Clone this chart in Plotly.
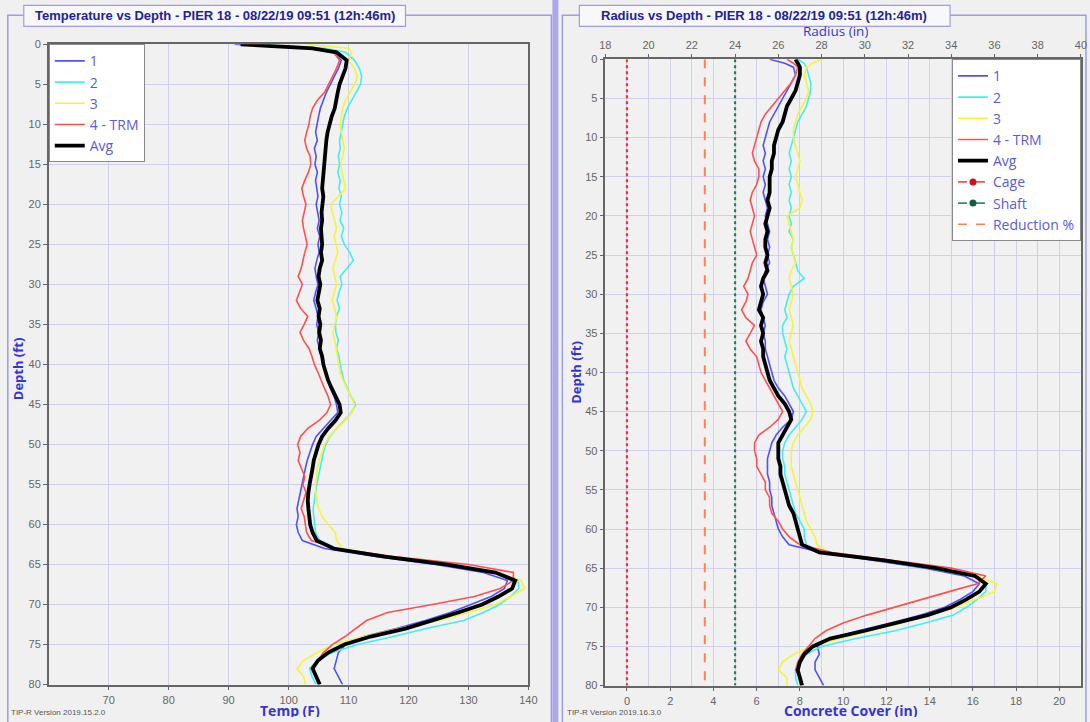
import plotly.graph_objects as go

# ---------------------------------------------------------------- data
depth_ft = [0, 0.5, 1, 2, 3, 4, 5, 6, 7, 8, 9, 10,
            11, 12, 13, 14, 15, 16, 17, 18, 19, 20,
            21, 22, 23, 24, 25, 26, 27, 28, 29, 30,
            31, 32, 33, 34, 35, 36, 37, 38, 39, 40,
            41, 42, 43, 44, 45, 46, 47, 48, 49, 50,
            51, 52, 53, 54, 55, 56, 57, 58, 59, 60,
            61, 62, 63, 64, 65, 66, 67, 68, 69, 70,
            71, 72, 73, 74, 75, 76, 77, 78, 79, 80]

# temperature (F) per tube
temp_1 = [91, 103, 107.5, 108.8, 108.3, 107.6, 107, 106.3, 105.8, 105.3, 105, 104.8,
          104.5, 104.8, 104.3, 104.6, 104.4, 104.8, 104.5, 104.7, 104.9, 104.6,
          104.9, 105.1, 104.8, 105.2, 104.9, 105.1, 104.7, 104.4, 104.6, 104.9,
          104.5, 104.2, 104.6, 104.9, 104.7, 105, 104.8, 105.2, 105.5, 105.8,
          106.2, 106.6, 107, 107.6, 108, 108.2, 107, 105.7, 104.6, 104,
          103.5, 103.1, 102.8, 102.5, 102.2, 101.9, 101.7, 101.4, 101.6, 101.3,
          101.6, 102.3, 106, 114.5, 124.5, 132.5, 136.5, 136, 133.8, 130.5,
          127, 122.8, 118, 112.5, 109.5, 108.3, 107.9, 107.6, 108.3, 109]
temp_2 = [95, 106, 109.5, 111, 111.8, 112.2, 112, 111.3, 110.5, 109.8, 109.3, 109,
          108.8, 108.5, 108.6, 108.3, 108.5, 108.2, 108.6, 108.4, 108.8, 108.5,
          108.9, 108.6, 109.2, 108.8, 109.3, 110.2, 110.8, 109.7, 108.6, 108.9,
          108.4, 108.1, 108.5, 108, 107.8, 107.9, 108.3, 108, 108.4, 108.6,
          108.9, 109.2, 109.8, 110.4, 111.2, 110.5, 109.3, 108, 106.9, 106.2,
          105.8, 105.5, 105.2, 104.9, 104.7, 104.5, 104.3, 104.1, 104.2, 104.3,
          104.5, 105.2, 108, 116.5, 126.3, 134.5, 138.3, 138.4, 137, 135.2,
          132.5, 129.2, 123, 117.5, 111.5, 107.3, 104.8, 103.5, 103.9, 104.6]
temp_3 = [103, 110, 110.5, 110, 111, 111.5, 111, 110.2, 109.5, 109, 108.8, 108.6,
          108.8, 109.1, 109.3, 109, 108.7, 108.9, 109.2, 109.5, 108.3, 107,
          107.3, 107.6, 108, 107.6, 107.9, 108.2, 107.8, 107.4, 107.7, 108,
          107.6, 107.3, 107.7, 108, 107.7, 107.4, 107.7, 107.9, 108.1, 108.3,
          108.6, 109.1, 109.7, 110.4, 111, 110.6, 109.4, 108, 106.8, 106,
          105.5, 105.1, 104.8, 104.6, 104.5, 104.5, 104.7, 105, 105.6, 106.6,
          107.8, 108, 109, 116.5, 126.5, 134.5, 138.8, 139.4, 137, 134.5,
          130, 125, 118.5, 112.5, 107.5, 104.8, 102.5, 101.4, 102.5, 102.8]
temp_4 = [93, 104, 107.5, 108.5, 108, 107.3, 106.6, 106, 104.8, 104, 103.6, 103.4,
          103, 102.7, 103, 103.6, 103.7, 103.3, 102.7, 102.2, 102.5, 102.9,
          102.6, 102.3, 102.5, 102.8, 103.1, 102.7, 102.4, 102.1, 101.6, 102.3,
          101.8, 101.3, 102, 103.2, 102.6, 101.9, 102.5, 103.4, 103.9, 104.3,
          104.9, 105.4, 106, 106.6, 107, 106.4, 105.1, 103.2, 102, 101.5,
          101.9, 101.6, 102.2, 102.7, 102.4, 102.9, 102.5, 102.1, 102.6, 102.8,
          103, 103.8, 108, 117.5, 130, 137.5, 137.5, 135.3, 131, 124,
          116.5, 113, 111.2, 109.4, 107.3, 105.8, 104.9, 104.1, 104.7, 105.1]
temp_avg = [92, 104, 108, 109.7, 109.5, 109, 108.5, 108.2, 108, 107.7, 107.2, 106.8,
            106.5, 106.3, 106.2, 106, 106, 105.8, 105.8, 105.6, 105.8, 105.7,
            105.5, 105.6, 105.4, 105.5, 105.6, 105.4, 105.6, 105.2, 105, 105.3,
            105.1, 104.8, 105.2, 105, 105.3, 105.1, 105.4, 105.2, 105.6, 105.8,
            106.2, 106.6, 107.2, 107.9, 108.5, 108.7, 107.8, 106.6, 105.6, 105,
            104.6, 104.2, 104, 103.7, 103.5, 103.3, 103.2, 103.3, 103.4, 103.6,
            104, 104.7, 107.5, 116, 126.5, 134.5, 137.8, 137.3, 135, 132.3,
            128.3, 124, 119.5, 113.7, 109.3, 106.6, 104.9, 104, 104.6, 105.2]

# effective radius (in) per tube
radius_1 = [25.6, 26.3, 26.7, 26.8, 26.6, 26.4, 26.2, 26.0, 25.8, 25.6, 25.5, 25.4,
            25.3, 25.4, 25.3, 25.4, 25.3, 25.4, 25.3, 25.4, 25.5, 25.4,
            25.5, 25.6, 25.5, 25.6, 25.5, 25.6, 25.4, 25.3, 25.4, 25.5,
            25.3, 25.2, 25.3, 25.4, 25.3, 25.4, 25.4, 25.5, 25.6, 25.7,
            25.8, 26.0, 26.3, 26.5, 26.7, 26.6, 26.2, 25.9, 25.7, 25.6,
            25.5, 25.5, 25.5, 25.6, 25.6, 25.7, 25.7, 25.8, 25.9, 26.0,
            26.2, 26.5, 28.0, 30.3, 32.8, 34.6, 35.3, 35.0, 34.4, 33.7,
            32.6, 31.2, 29.7, 28.4, 27.8, 27.9, 27.7, 27.7, 27.9, 28.1]
radius_2 = [26.9, 27.2, 27.3, 27.4, 27.5, 27.5, 27.4, 27.3, 27.1, 26.9, 26.8, 26.7,
            26.6, 26.5, 26.6, 26.5, 26.6, 26.5, 26.6, 26.5, 26.6, 26.5,
            26.6, 26.5, 26.7, 26.6, 26.7, 26.8, 26.9, 27.2, 26.7, 26.5,
            26.4, 26.3, 26.4, 26.2, 26.2, 26.3, 26.4, 26.3, 26.4, 26.5,
            26.6, 26.7, 26.9, 27.1, 27.3, 27.1, 26.8, 26.5, 26.3, 26.2,
            26.2, 26.3, 26.3, 26.4, 26.5, 26.6, 26.7, 26.8, 27.0, 27.2,
            27.2, 27.3, 28.1, 30.5, 33.0, 35.0, 35.6, 35.6, 35.2, 34.7,
            34.1, 32.8, 31.4, 29.6, 28.0, 27.3, 27.0, 26.8, 26.8, 26.9]
radius_3 = [28.0, 27.6, 27.3, 27.2, 27.3, 27.4, 27.3, 27.1, 26.9, 26.8, 26.7, 26.7,
            26.8, 26.9, 27.0, 26.9, 26.8, 26.9, 27.0, 27.1, 27.0, 26.4,
            26.5, 26.6, 26.7, 26.6, 26.7, 26.8, 26.6, 26.5, 26.6, 26.7,
            26.6, 26.5, 26.6, 26.7, 26.6, 26.5, 26.6, 26.7, 26.8, 26.9,
            27.0, 27.1, 27.3, 27.5, 27.6, 27.5, 27.2, 26.9, 26.7, 26.6,
            26.6, 26.6, 26.7, 26.8, 26.9, 27.0, 27.1, 27.2, 27.3, 27.5,
            27.7, 27.8, 28.3, 30.6, 33.2, 35.2, 36.1, 36.0, 35.1, 34.2,
            33.0, 31.7, 30.2, 28.9, 27.5, 26.7, 26.2, 26.0, 26.4, 26.4]
radius_4 = [26.4, 26.7, 26.9, 26.8, 26.6, 26.3, 26.0, 25.7, 25.4, 25.2, 25.1, 25.0,
            24.9, 24.8, 24.9, 25.1, 25.1, 25.0, 24.8, 24.7, 24.8, 24.9,
            24.8, 24.7, 24.8, 24.9, 25.0, 24.8, 24.7, 24.6, 24.4, 24.6,
            24.5, 24.3, 24.5, 24.9, 24.7, 24.5, 24.7, 25.0, 25.1, 25.2,
            25.4, 25.6, 25.8, 26.0, 26.2, 26.0, 25.6, 25.1, 24.9, 24.9,
            25.0, 25.0, 25.2, 25.4, 25.4, 25.6, 25.6, 25.7, 26.0, 26.2,
            26.5, 27.0, 28.5, 31.3, 34.0, 35.6, 35.2, 33.9, 32.6, 31.4,
            30.1, 29.0, 28.2, 27.7, 27.4, 27.1, 26.9, 26.8, 27.0, 27.1]
radius_avg = [26.8, 26.9, 27.0, 27.0, 26.9, 26.8, 26.6, 26.4, 26.3, 26.2, 26.0, 25.9,
              25.8, 25.8, 25.7, 25.7, 25.6, 25.6, 25.6, 25.5, 25.6, 25.5,
              25.4, 25.5, 25.4, 25.4, 25.5, 25.4, 25.5, 25.3, 25.2, 25.3,
              25.2, 25.1, 25.3, 25.2, 25.3, 25.2, 25.3, 25.3, 25.4, 25.5,
              25.6, 25.8, 26.0, 26.3, 26.5, 26.6, 26.4, 26.2, 26.0, 26.0,
              26.0, 26.1, 26.1, 26.2, 26.3, 26.4, 26.5, 26.7, 26.8, 26.9,
              27.0, 27.1, 27.9, 30.9, 33.3, 35.1, 35.6, 35.3, 34.7, 34.0,
              32.9, 31.5, 30.0, 28.4, 27.6, 27.2, 27.0, 26.9, 27.0, 27.1]

cage_radius = 19.0
shaft_radius = 24.0
reduction_radius = 22.6
line_depths = [0, 80]

series_names = ["1", "2", "3", "4 - TRM", "Avg"]
temp_series = [temp_1, temp_2, temp_3, temp_4, temp_avg]
radius_series = [radius_1, radius_2, radius_3, radius_4, radius_avg]

temp_ticks = [70, 80, 90, 100, 110, 120, 130, 140]
depth_ticks = [0, 5, 10, 15, 20, 25, 30, 35, 40, 45, 50, 55, 60, 65, 70, 75, 80]
radius_ticks = [18, 20, 22, 24, 26, 28, 30, 32, 34, 36, 38, 40]
cover_ticks = [0, 2, 4, 6, 8, 10, 12, 14, 16, 18, 20]

# ---------------------------------------------------------------- styling
W, H = 1090, 722
# the page places the figure with a small inset and scale; layout positions
# below are given in window pixels and converted into figure fractions
INSET_X, INSET_Y = 6.2, 5.7
SCALE_X, SCALE_Y = 0.987, 0.983

colors = ["#5050ff", "#40f0f0", "#f4f43a", "#ff5050", "#000000"]
widths = [1.6, 1.6, 1.6, 1.6, 3.8]
grid_c = "#cfcfee"
frame_c = "#9d9de0"
tick_font = dict(family="Liberation Sans", size=11, color="#666666")
blue_txt = "#3535d0"
legend_txt = "#5a5ae0"


def px(x):
    return ((x - INSET_X) / SCALE_X) / W


def py(y):
    return 1 - ((y - INSET_Y) / SCALE_Y) / H


fig = go.Figure()

# temperature traces (left)
for name, vals, c, w in zip(series_names, temp_series, colors, widths):
    fig.add_trace(go.Scatter(x=vals, y=depth_ft, name=name, mode="lines",
                             line=dict(color=c, width=w),
                             xaxis="x", yaxis="y", legend="legend"))

# reference lines (right)
fig.add_trace(go.Scatter(x=[cage_radius] * 2, y=line_depths, mode="lines",
                         line=dict(color="#ff2a2a", width=2.2, dash="dot"),
                         xaxis="x2", yaxis="y2", showlegend=False))
fig.add_trace(go.Scatter(x=[reduction_radius] * 2, y=line_depths, mode="lines",
                         line=dict(color="#ff8050", width=2, dash="dash"),
                         xaxis="x2", yaxis="y2", showlegend=False))
fig.add_trace(go.Scatter(x=[shaft_radius] * 2, y=line_depths, mode="lines",
                         line=dict(color="#1f7f5f", width=2.2, dash="dot"),
                         xaxis="x2", yaxis="y2", showlegend=False))

# radius traces (right)
for name, vals, c, w in zip(series_names, radius_series, colors, widths):
    fig.add_trace(go.Scatter(x=vals, y=depth_ft, name=name, mode="lines",
                             line=dict(color=c, width=w),
                             xaxis="x2", yaxis="y2", legend="legend2"))

# legend-only entries for the reference lines
for name, c, mc, mk in [("Cage", "#ff5050", "#d01010", True),
                        ("Shaft", "#2f8f6f", "#106040", True),
                        ("Reduction %", "#ff8050", "#ff8050", False)]:
    fig.add_trace(go.Scatter(x=[None], y=[None], name=name,
                             mode="lines+markers" if mk else "lines",
                             line=dict(color=c, width=1.6, dash="dash"),
                             marker=dict(color=mc, size=7),
                             xaxis="x2", yaxis="y2", legend="legend2"))

axis_common = dict(showline=True, linecolor="#666666", linewidth=1.5, mirror=True,
                   ticks="outside", ticklen=4, tickcolor="#666666",
                   tickfont=tick_font, gridcolor=grid_c, gridwidth=1, zeroline=False)

L = dict(x0=49, x1=529, y0=44, y1=684)
R = dict(x0=606, x1=1082, y0=59, y1=685)
r_dom = [px(R["x0"]), px(R["x1"])]

# bottom axis of the right chart reads concrete cover = radius - cage radius
cover_vals = [cage_radius + c for c in cover_ticks]
cover_text = [str(c) for c in cover_ticks]

legend_style = dict(bgcolor="#ffffff", bordercolor="#8a8a8a", borderwidth=1,
                    font=dict(family="Open Sans", size=14, color=legend_txt),
                    itemwidth=30, tracegroupgap=0)

fig.update_layout(
    width=W, height=H, autosize=False,
    margin=dict(l=0, r=0, t=0, b=0),
    paper_bgcolor="#f0f0f0", plot_bgcolor="#f1f1f1",
    xaxis=dict(domain=[px(L["x0"]), px(L["x1"])], anchor="y", range=[60, 140],
               tickvals=temp_ticks, **axis_common),
    yaxis=dict(domain=[py(L["y1"]), py(L["y0"])], anchor="x", range=[80, 0],
               tickvals=depth_ticks, **axis_common),
    xaxis2=dict(domain=r_dom, anchor="y2", range=[18, 40],
                tickvals=cover_vals, ticktext=cover_text,
                minor=dict(dtick=1, showgrid=True, gridcolor=grid_c, ticks=""),
                **axis_common),
    xaxis3=dict(domain=r_dom, overlaying="x2", side="top", anchor="y2", range=[18, 40],
                tickvals=radius_ticks, showgrid=False,
                **{k: v for k, v in axis_common.items() if k != "gridcolor"}),
    yaxis2=dict(domain=[py(R["y1"]), py(R["y0"])], anchor="x2", range=[80, 0],
                tickvals=depth_ticks, **axis_common),
    legend=dict(x=px(L["x0"]), y=py(L["y0"]), xanchor="left", yanchor="top", **legend_style),
    legend2=dict(x=px(R["x1"]), y=py(R["y0"]), xanchor="right", yanchor="top", **legend_style),
    showlegend=True,
)

# an invisible trace keeps the top radius axis drawn
fig.add_trace(go.Scatter(x=[None], y=[None], xaxis="x3", yaxis="y2",
                         showlegend=False, hoverinfo="skip"))

# panel frames and title boxes
shapes = [
    dict(type="rect", x0=px(8), x1=px(552), y0=py(740), y1=py(15),
         line=dict(color=frame_c, width=1.5)),
    dict(type="rect", x0=px(563), x1=px(1087), y0=py(740), y1=py(15),
         line=dict(color=frame_c, width=1.5)),
    dict(type="rect", x0=px(553), x1=px(559), y0=py(740), y1=py(-10),
         line=dict(width=0), fillcolor="#aaaaea"),
    dict(type="rect", x0=px(24), x1=px(406), y0=py(26), y1=py(5),
         line=dict(color=frame_c, width=1.2), fillcolor="#f8f8fc"),
    dict(type="rect", x0=px(580), x1=px(951), y0=py(26), y1=py(5),
         line=dict(color=frame_c, width=1.2), fillcolor="#f8f8fc"),
]
for s in shapes:
    s.update(xref="paper", yref="paper", layer="below")
fig.update_layout(shapes=shapes)

title_font = dict(family="Liberation Sans", size=13, color="#22229a")
annotations = [
    dict(x=px(215), y=py(15.5), text="<b>Temperature vs Depth - PIER 18 - 08/22/19 09:51 (12h:46m)</b>",
         font=title_font),
    dict(x=px(765), y=py(15.5), text="<b>Radius vs Depth - PIER 18 - 08/22/19 09:51 (12h:46m)</b>",
         font=title_font),
    dict(x=px(290), y=py(709), text="<b>Temp (F)</b>", height=14,
         font=dict(family="Open Sans", size=14, color=blue_txt)),
    dict(x=px(852), y=py(709), text="<b>Concrete Cover (in)</b>", height=14,
         font=dict(family="Open Sans", size=14, color=blue_txt)),
    dict(x=px(836), y=py(31), text="Radius (in)", height=14,
         font=dict(family="Open Sans", size=13.5, color=blue_txt)),
    dict(x=px(19), y=py(368), text="<b>Depth (ft)</b>", textangle=-90,
         font=dict(family="Open Sans", size=13, color=blue_txt)),
    dict(x=px(577), y=py(372), text="<b>Depth (ft)</b>", textangle=-90,
         font=dict(family="Open Sans", size=13, color=blue_txt)),
    dict(x=px(9), y=py(712), text="TIP-R Version 2019.15.2.0", xanchor="left",
         font=dict(family="Liberation Sans", size=8, color="#555555")),
    dict(x=px(566), y=py(712), text="TIP-R Version 2019.16.3.0", xanchor="left",
         font=dict(family="Liberation Sans", size=8, color="#555555")),
]
for a in annotations:
    a.update(xref="paper", yref="paper", showarrow=False)
    a.setdefault("xanchor", "center")
    a.setdefault("yanchor", "middle")
fig.update_layout(annotations=annotations)

fig.write_html("out.html", post_script="document.body.style.background = '#f0f0f0';")
